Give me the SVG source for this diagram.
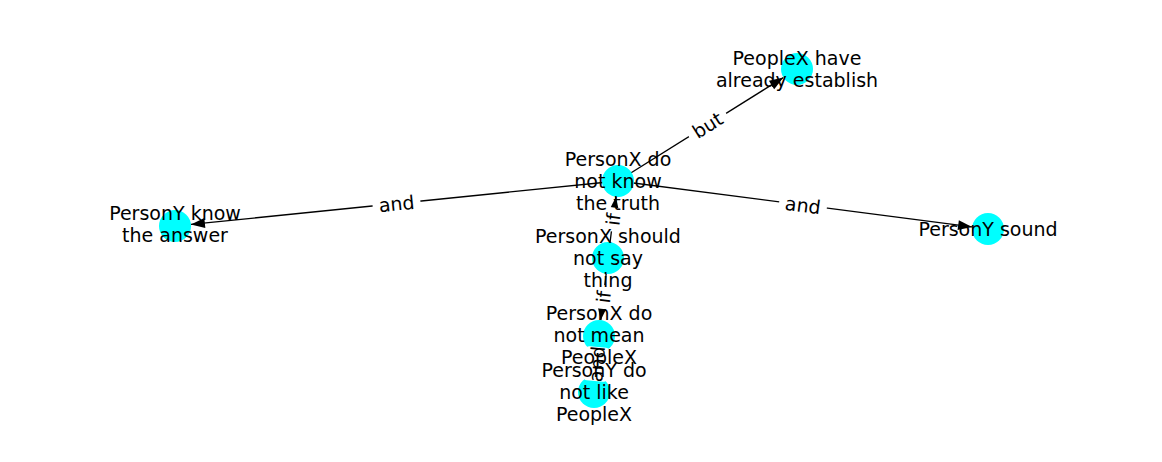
<svg xmlns="http://www.w3.org/2000/svg" width="1162" height="462" viewBox="0 0 1162 462">
<style>
text{font-family:"DejaVu Sans",sans-serif;font-size:19px;fill:#000;text-anchor:middle;dominant-baseline:central}
.e{stroke:#000;stroke-width:1.3;fill:none;marker-end:url(#ah)}
.n{fill:#00ffff}
.lb{fill:#fff}
</style>
<defs>
<marker id="ah" markerUnits="userSpaceOnUse" markerWidth="16" markerHeight="12" viewBox="0 0 16 12" refX="15" refY="6" orient="auto">
<path d="M1,1 L15,6 L1,11 Z" fill="#000"/>
</marker>
</defs>
<rect width="1162" height="462" fill="#fff"/>
<g id="edges">
<line class="e" x1="618" y1="181" x2="783.4" y2="77.5"/>
<line class="e" x1="618" y1="181" x2="190.9" y2="224.4"/>
<line class="e" x1="618" y1="181" x2="972.1" y2="226.9"/>
<line class="e" x1="608" y1="258" x2="615.9" y2="196.9"/>
<line class="e" x1="608" y1="258" x2="600.8" y2="320.1"/>
<line class="e" x1="599" y1="336" x2="595.3" y2="376"/>
</g>
<g id="nodes">
<circle class="n" cx="618" cy="181" r="16"/>
<circle class="n" cx="797" cy="69" r="16"/>
<circle class="n" cx="175" cy="226" r="16"/>
<circle class="n" cx="988" cy="229" r="16"/>
<circle class="n" cx="608" cy="258" r="16"/>
<circle class="n" cx="599" cy="336" r="16"/>
<circle class="n" cx="594" cy="392" r="16"/>
</g>
<g id="edge-labels">
<g transform="translate(707.5,125) rotate(-32)"><rect class="lb" x="-22" y="-12" width="44" height="24" rx="4"/><text>but</text></g>
<g transform="translate(396.5,203.5) rotate(-5.8)"><rect class="lb" x="-24" y="-12" width="48" height="24" rx="4"/><text>and</text></g>
<g transform="translate(803,205) rotate(7.4)"><rect class="lb" x="-24" y="-12" width="48" height="24" rx="4"/><text>and</text></g>
<g transform="translate(613,219.5) rotate(-82.6)"><rect class="lb" x="-12" y="-12" width="24" height="24" rx="4"/><text>if</text></g>
<g transform="translate(603.5,297) rotate(-83.4)"><rect class="lb" x="-12" y="-12" width="24" height="24" rx="4"/><text>if</text></g>
<g transform="translate(596.5,364) rotate(-85)"><rect class="lb" x="-17" y="-12" width="34" height="24" rx="4"/><text>and</text></g>
</g>
<g id="n-truth"><text x="618" y="159">PersonX do</text><text x="618" y="181">not know</text><text x="618" y="203">the truth</text></g>
<g id="n-established"><text x="797" y="58">PeopleX have</text><text x="797" y="80">already establish</text></g>
<g id="n-answer"><text x="175" y="213">PersonY know</text><text x="175" y="235">the answer</text></g>
<g id="n-sound"><text x="988" y="229">PersonY sound</text></g>
<g id="n-say"><text x="608" y="236">PersonX should</text><text x="608" y="258">not say</text><text x="608" y="280">thing</text></g>
<g id="n-mean"><text x="599" y="313">PersonX do</text><text x="599" y="335">not mean</text><text x="599" y="357">PeopleX</text></g>
<g id="n-like"><text x="594" y="370">PersonY do</text><text x="594" y="392">not like</text><text x="594" y="414">PeopleX</text></g>
</svg>
